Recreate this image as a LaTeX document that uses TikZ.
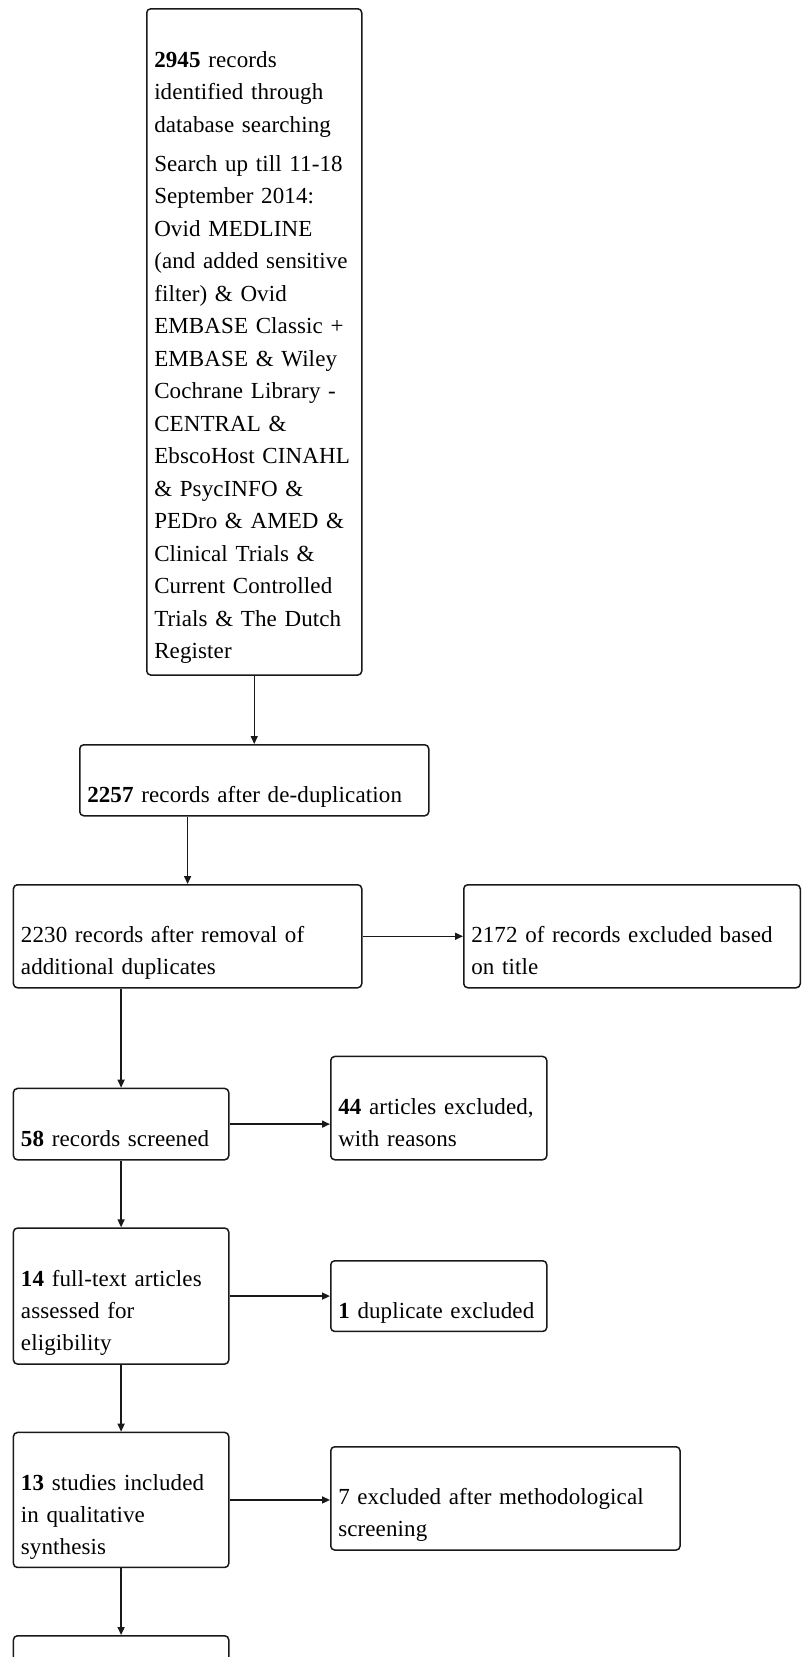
\documentclass[tikz,border=0pt]{standalone}
\usepackage{fontspec}
\setmainfont{Liberation Serif}[LetterSpace=0.5]
\usetikzlibrary{arrows.meta}
\newcommand\TxtLine[1]{\mbox{\strut #1}}
\begin{document}
\begin{tikzpicture}[x=1pt,y=-1pt,
  box/.style={draw=black!90, line width=1.5pt, rounded corners=4pt, anchor=north west,
    align=left, inner xsep=7.5pt, inner ysep=3pt, font=\fontsize{23}{32}\selectfont, text=black},
  arr/.style={draw=black!90, line width=1.5pt, -{Triangle[length=8pt,width=7pt]}}]
\useasboundingbox (0,0) rectangle (801,1657);
\clip (0,0) rectangle (801,1657);

\node[box, text width=200pt, inner ysep=0pt, font=\fontsize{23}{32.5}\selectfont] (A) at (146,8) {\mbox{\rule{0pt}{25.9pt}}\\
\TxtLine{\textbf{2945} records}\\
\TxtLine{identified through}\\
\TxtLine{database searching}\\[6.4pt]
\TxtLine{Search up till 11-18}\\
\TxtLine{September 2014:}\\
\TxtLine{Ovid MEDLINE}\\
\TxtLine{(and added sensitive}\\
\TxtLine{filter) \& Ovid}\\
\TxtLine{EMBASE Classic +}\\
\TxtLine{EMBASE \& Wiley}\\
\TxtLine{Cochrane Library -}\\
\TxtLine{CENTRAL \&}\\
\TxtLine{EbscoHost CINAHL}\\
\TxtLine{\& PsycINFO \&}\\
\TxtLine{PEDro \& AMED \&}\\
\TxtLine{Clinical Trials \&}\\
\TxtLine{Current Controlled}\\
\TxtLine{Trials \& The Dutch}\\
\mbox{\strut\rule[-16.5pt]{0pt}{1pt}Register}};

\node[box, text width=334pt, minimum height=71pt] (B) at (79,744) {\TxtLine{}\\
\TxtLine{\textbf{2257} records after de-duplication}};

\node[box, text width=333.3pt, minimum height=103pt] (C) at (12.7,884) {\TxtLine{}\\
\TxtLine{2230 records after removal of}\\
\TxtLine{additional duplicates}};

\node[box, text width=321.5pt, minimum height=103pt] (D) at (463,884) {\TxtLine{}\\
\TxtLine{2172 of records excluded based}\\
\TxtLine{on title}};

\node[box, text width=200.3pt, minimum height=71.3pt] (E) at (12.7,1087.7) {\TxtLine{}\\
\TxtLine{\textbf{58} records screened}};

\node[box, text width=201pt, minimum height=103.3pt] (F) at (330,1055.7) {\TxtLine{}\\
\TxtLine{\textbf{44} articles excluded,}\\
\TxtLine{with reasons}};

\node[box, text width=200.3pt, minimum height=136pt] (G) at (12.7,1227.3) {\TxtLine{}\\
\TxtLine{\textbf{14} full-text articles}\\
\TxtLine{assessed for}\\
\TxtLine{eligibility}};

\node[box, text width=201pt, minimum height=70.7pt] (H) at (330,1260) {\TxtLine{}\\
\TxtLine{\textbf{1} duplicate excluded}};

\node[box, text width=200.3pt, minimum height=135pt] (I) at (12.7,1431.7) {\TxtLine{}\\
\TxtLine{\textbf{13} studies included}\\
\TxtLine{in qualitative}\\
\TxtLine{synthesis}};

\node[box, text width=334.3pt, minimum height=103.3pt] (J) at (330,1446) {\TxtLine{}\\
\TxtLine{7 excluded after methodological}\\
\TxtLine{screening}};

\node[box, text width=200.3pt, minimum height=120pt] (K) at (12.7,1635) {};

\draw[arr] (A.south -| B.north) -- (B.north);
\draw[arr] (B.south -| C.north) -- (C.north);
\draw[arr] (C.south -| E.north) -- (E.north);
\draw[arr] (E.south -| G.north) -- (G.north);
\draw[arr] (G.south -| I.north) -- (I.north);
\draw[arr] (I.south -| K.north) -- (K.north);
\draw[arr] (C.east) -- (C.east -| D.west);
\draw[arr] (E.east) -- (E.east -| F.west);
\draw[arr] (G.east) -- (G.east -| H.west);
\draw[arr] (I.east) -- (I.east -| J.west);
\end{tikzpicture}
\end{document}
